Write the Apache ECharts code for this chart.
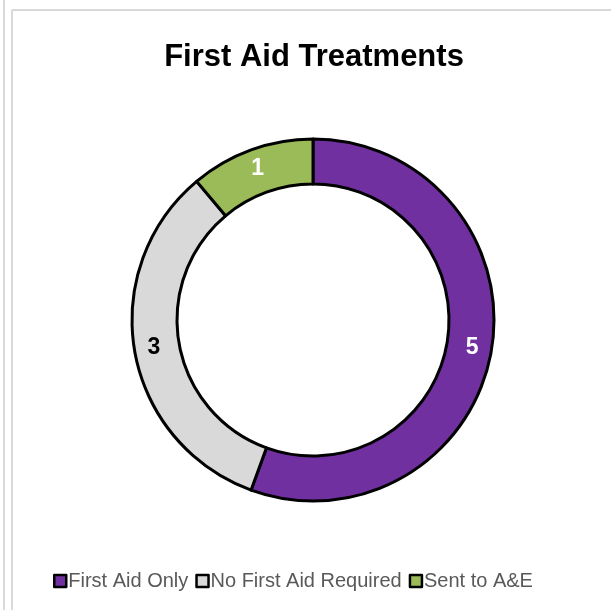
<!DOCTYPE html>
<html><head><meta charset="utf-8">
<script src="https://cdn.jsdelivr.net/npm/echarts@6/dist/echarts.min.js"></script>
<style>html,body{margin:0;padding:0;background:#fff}#c{width:611px;height:610px}</style>
</head><body><div id="c"></div>
<script>
const categories = ['First Aid Only', 'No First Aid Required', 'Sent to A&E'];
const values = [5, 3, 1];
const colors = ['#7030A0', '#D9D9D9', '#9BBB59'];
const labelColors = ['#ffffff', '#000000', '#ffffff'];

const chart = echarts.init(document.getElementById('c'));
chart.setOption({
  animation: false,
  title: {
    text: 'First Aid Treatments', left: 309, top: 37, textAlign: 'center',
    textStyle: {fontFamily: 'Liberation Sans', fontWeight: 'bold', fontSize: 31, color: '#000'}
  },
  legend: {
    bottom: 14, left: 48, itemWidth: 12, itemHeight: 12, itemGap: 7,
    icon: 'rect',
    itemStyle: {borderColor: '#000', borderWidth: 2.5},
    textStyle: {fontFamily: 'Liberation Sans', fontSize: 20, color: '#595959', padding: [0, 0, 0, -3]},
    data: categories
  },
  graphic: [
    {type: 'line', shape: {x1: 4, y1: 0, x2: 4, y2: 610}, style: {stroke: '#d9d9d9', lineWidth: 2}},
    {type: 'line', shape: {x1: 12, y1: 10, x2: 12, y2: 610}, style: {stroke: '#d9d9d9', lineWidth: 2}},
    {type: 'line', shape: {x1: 12, y1: 10, x2: 611, y2: 10}, style: {stroke: '#d9d9d9', lineWidth: 2}}
  ],
  series: [{
    type: 'pie', center: [313, 320], radius: [136, 181], startAngle: 90, clockwise: true,
    label: {position: 'inside', formatter: '{c}', fontFamily: 'Liberation Sans', fontWeight: 'bold', fontSize: 23},
    labelLine: {show: false},
    itemStyle: {borderColor: '#000', borderWidth: 3},
    emphasis: {disabled: true},
    data: categories.map((n, i) => ({name: n, value: values[i], itemStyle: {color: colors[i]}, label: {color: labelColors[i]}}))
  }]
});
</script></body></html>
